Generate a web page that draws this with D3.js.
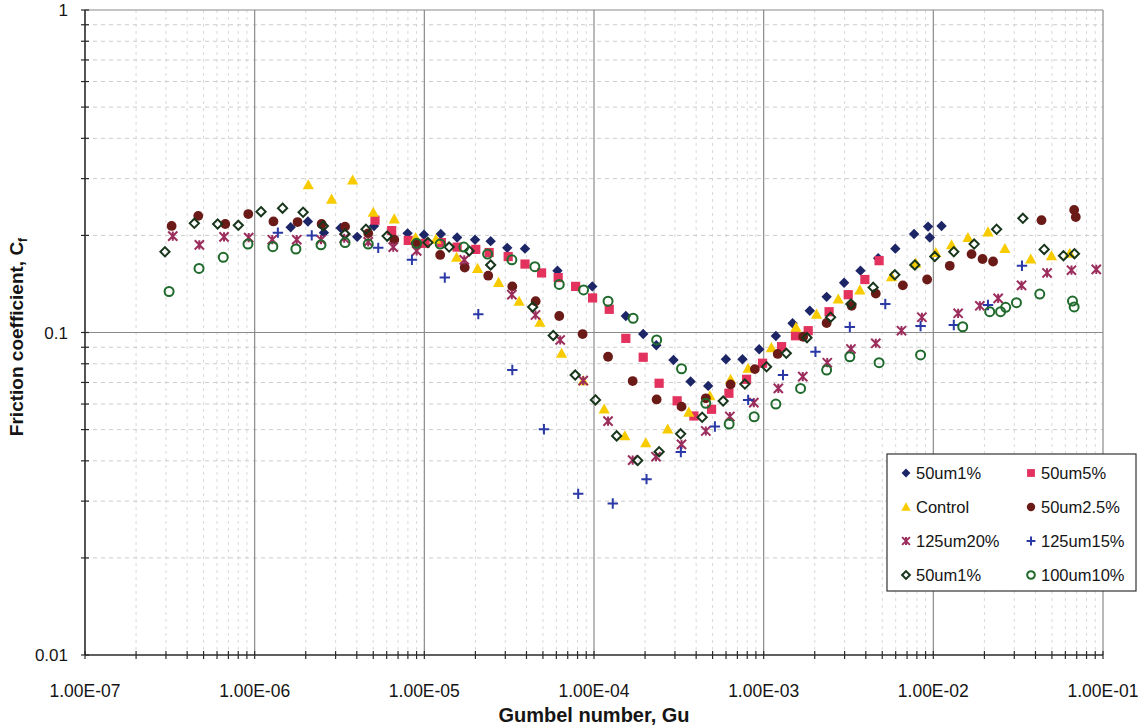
<!DOCTYPE html>
<html>
<head>
<meta charset="utf-8">
<script src="https://cdn.jsdelivr.net/npm/d3@7"></script>
<style>
  body { margin: 0; background: #fff; }
  svg { display: block; }
  text { font-family: "Liberation Sans", Arial, Helvetica, sans-serif; fill: #151515; }
</style>
</head>
<body>
<svg id="chart" width="1138" height="726"></svg>
<script>
// ---- data: Gumbel number (Gu) and friction coefficient (Cf) per surface ----
const guDiamond50um1 = [1.63e-6, 2.06e-6, 2.56e-6, 3.21e-6, 4.02e-6, 5.05e-6, 7.97e-6, 9.95e-6, 1.25e-5, 1.56e-5, 1.99e-5, 2.46e-5, 3.08e-5, 3.92e-5, 6.09e-5, 9.77e-5, 1.54e-4, 1.95e-4, 2.33e-4, 2.94e-4, 3.71e-4, 4.71e-4, 5.99e-4, 7.5e-4, 9.41e-4, 1.18e-3, 1.48e-3, 1.87e-3, 2.35e-3, 2.98e-3, 3.72e-3, 4.73e-3, 5.97e-3, 7.7e-3, 9.31e-3, 9.53e-3, 1.118e-2];
const cfDiamond50um1 = [0.212, 0.221, 0.204, 0.211, 0.198, 0.214, 0.203, 0.201, 0.202, 0.197, 0.194, 0.192, 0.183, 0.182, 0.1555, 0.139, 0.1125, 0.0989, 0.0913, 0.0822, 0.0705, 0.0683, 0.0826, 0.0826, 0.0887, 0.0975, 0.1068, 0.1168, 0.129, 0.1427, 0.1555, 0.170, 0.182, 0.202, 0.213, 0.197, 0.214];

const gu50um5 = [5.12e-6, 6.42e-6, 8.04e-6, 1.01e-5, 1.26e-5, 1.56e-5, 2.01e-5, 2.41e-5, 3.12e-5, 3.92e-5, 4.91e-5, 6.15e-5, 7.79e-5, 9.81e-5, 1.23e-4, 1.54e-4, 1.95e-4, 2.42e-4, 3.09e-4, 3.88e-4, 4.93e-4, 6.24e-4, 7.93e-4, 9.85e-4, 1.275e-3, 1.54e-3, 1.83e-3, 2.43e-3, 3.15e-3, 3.95e-3, 4.79e-3];
const cf50um5 = [0.223, 0.207, 0.193, 0.189, 0.190, 0.184, 0.181, 0.177, 0.172, 0.163, 0.153, 0.148, 0.139, 0.128, 0.118, 0.0959, 0.0838, 0.0696, 0.0614, 0.0551, 0.0578, 0.0648, 0.0716, 0.0803, 0.0904, 0.0977, 0.1013, 0.116, 0.131, 0.146, 0.167];

const guControl = [2.07e-6, 2.84e-6, 3.78e-6, 5.0e-6, 6.65e-6, 8.89e-6, 1.17e-5, 1.55e-5, 2.06e-5, 2.74e-5, 3.62e-5, 4.8e-5, 6.44e-5, 8.64e-5, 1.148e-4, 1.52e-4, 2.02e-4, 2.72e-4, 3.62e-4, 4.82e-4, 6.38e-4, 8.1e-4, 1.11e-3, 1.55e-3, 2.05e-3, 2.75e-3, 3.69e-3, 5.67e-3, 7.88e-3, 1.034e-2, 1.28e-2, 1.60e-2, 2.10e-2, 2.64e-2, 3.75e-2, 4.97e-2, 6.37e-2];
const cfControl = [0.287, 0.259, 0.297, 0.236, 0.225, 0.197, 0.1945, 0.171, 0.158, 0.143, 0.125, 0.1076, 0.0862, 0.0709, 0.0579, 0.0478, 0.0455, 0.0502, 0.0566, 0.0636, 0.0716, 0.0774, 0.0897, 0.1038, 0.114, 0.127, 0.1355, 0.149, 0.164, 0.177, 0.187, 0.197, 0.205, 0.182, 0.169, 0.173, 0.176];

const gu50um2p5 = [3.24e-7, 4.65e-7, 6.71e-7, 9.17e-7, 1.29e-6, 1.79e-6, 2.48e-6, 3.41e-6, 4.67e-6, 6.65e-6, 8.92e-6, 1.24e-5, 1.73e-5, 2.38e-5, 3.30e-5, 4.53e-5, 6.24e-5, 8.57e-5, 1.21e-4, 1.69e-4, 2.34e-4, 3.28e-4, 4.56e-4, 6.38e-4, 8.87e-4, 1.21e-3, 1.71e-3, 2.35e-3, 3.30e-3, 4.58e-3, 6.61e-3, 9.19e-3, 1.25e-2, 1.68e-2, 1.95e-2, 2.25e-2, 4.34e-2, 6.76e-2, 6.91e-2];
const cf50um2p5 = [0.214, 0.230, 0.217, 0.233, 0.221, 0.220, 0.217, 0.213, 0.203, 0.194, 0.189, 0.174, 0.159, 0.150, 0.139, 0.125, 0.1125, 0.0989, 0.0841, 0.0707, 0.062, 0.0589, 0.0625, 0.069, 0.077, 0.0858, 0.097, 0.107, 0.121, 0.132, 0.140, 0.146, 0.161, 0.175, 0.169, 0.166, 0.223, 0.240, 0.228];

const gu125um20 = [3.29e-7, 4.72e-7, 6.6e-7, 9.22e-7, 1.27e-6, 1.77e-6, 2.46e-6, 3.37e-6, 4.67e-6, 6.56e-6, 9.01e-6, 1.72e-5, 3.28e-5, 4.52e-5, 6.32e-5, 8.64e-5, 1.21e-4, 1.69e-4, 2.32e-4, 3.28e-4, 4.56e-4, 6.32e-4, 8.75e-4, 1.22e-3, 1.70e-3, 2.37e-3, 3.27e-3, 4.58e-3, 6.49e-3, 8.56e-3, 1.40e-2, 1.88e-2, 2.41e-2, 3.31e-2, 4.68e-2, 6.52e-2, 9.13e-2];
const cf125um20 = [0.199, 0.187, 0.198, 0.197, 0.194, 0.194, 0.194, 0.196, 0.191, 0.184, 0.179, 0.168, 0.131, 0.1133, 0.0948, 0.0709, 0.0531, 0.0402, 0.0412, 0.045, 0.0495, 0.0549, 0.0606, 0.0671, 0.073, 0.0806, 0.0889, 0.0926, 0.1013, 0.1115, 0.1147, 0.121, 0.1276, 0.140, 0.153, 0.156, 0.157];

const gu125um15 = [1.37e-6, 2.17e-6, 5.35e-6, 8.45e-6, 1.32e-5, 2.08e-5, 3.30e-5, 5.07e-5, 8.07e-5, 1.29e-4, 2.04e-4, 3.25e-4, 5.16e-4, 8.1e-4, 1.30e-3, 2.02e-3, 3.22e-3, 5.21e-3, 8.41e-3, 1.32e-2, 2.10e-2, 3.33e-2];
const cf125um15 = [0.204, 0.200, 0.183, 0.168, 0.148, 0.114, 0.0765, 0.0501, 0.0316, 0.0295, 0.0351, 0.0426, 0.0511, 0.0618, 0.0738, 0.0872, 0.104, 0.1226, 0.1047, 0.1055, 0.1217, 0.161];

const guOpen50um1 = [2.96e-7, 4.41e-7, 6.05e-7, 8.01e-7, 1.09e-6, 1.46e-6, 1.93e-6, 2.54e-6, 3.41e-6, 4.53e-6, 6.04e-6, 1.05e-5, 1.40e-5, 1.84e-5, 2.46e-5, 4.35e-5, 5.75e-5, 7.75e-5, 1.02e-4, 1.36e-4, 1.81e-4, 2.42e-4, 3.24e-4, 4.34e-4, 5.77e-4, 7.75e-4, 1.04e-3, 1.36e-3, 1.80e-3, 2.48e-3, 3.27e-3, 4.42e-3, 5.93e-3, 7.78e-3, 1.02e-2, 1.32e-2, 1.74e-2, 2.36e-2, 3.37e-2, 4.50e-2, 5.85e-2, 6.79e-2];
const cfOpen50um1 = [0.178, 0.218, 0.217, 0.215, 0.237, 0.243, 0.236, 0.214, 0.202, 0.209, 0.199, 0.190, 0.184, 0.179, 0.162, 0.120, 0.0979, 0.0738, 0.0618, 0.0478, 0.0401, 0.0427, 0.0485, 0.0546, 0.0613, 0.0692, 0.0783, 0.0862, 0.0964, 0.1115, 0.1226, 0.138, 0.151, 0.162, 0.172, 0.178, 0.188, 0.209, 0.226, 0.181, 0.173, 0.1755];

const gu100um10 = [3.13e-7, 4.70e-7, 6.53e-7, 9.13e-7, 1.28e-6, 1.75e-6, 2.46e-6, 3.41e-6, 4.67e-6, 9.01e-6, 1.24e-5, 1.71e-5, 2.36e-5, 3.28e-5, 4.48e-5, 6.24e-5, 8.68e-5, 1.21e-4, 1.70e-4, 2.34e-4, 3.28e-4, 4.56e-4, 6.26e-4, 8.79e-4, 1.18e-3, 1.65e-3, 2.35e-3, 3.22e-3, 4.79e-3, 8.41e-3, 1.49e-2, 2.15e-2, 2.49e-2, 2.67e-2, 3.09e-2, 4.24e-2, 6.61e-2, 6.76e-2];
const cf100um10 = [0.134, 0.158, 0.171, 0.188, 0.1845, 0.1815, 0.187, 0.190, 0.188, 0.189, 0.188, 0.184, 0.175, 0.168, 0.160, 0.141, 0.1355, 0.125, 0.1107, 0.0948, 0.0772, 0.0603, 0.052, 0.0548, 0.060, 0.0671, 0.0765, 0.0841, 0.0806, 0.0852, 0.1042, 0.116, 0.116, 0.1197, 0.1237, 0.1316, 0.1252, 0.120];

const seriesNames = ["50um1%", "50um5%", "Control", "50um2.5%", "125um20%", "125um15%", "50um1%", "100um10%"];

const xTickValues = [1e-7, 1e-6, 1e-5, 1e-4, 1e-3, 1e-2, 1e-1];
const xTickLabels = ["1.00E-07", "1.00E-06", "1.00E-05", "1.00E-04", "1.00E-03", "1.00E-02", "1.00E-01"];
const yTickValues = [0.01, 0.1, 1];
const yTickLabels = ["0.01", "0.1", "1"];

// ---- marker definitions ----
function markerPath(shape, r) {
  switch (shape) {
    case "diamond":  return `M0,${-r}L${r},0L0,${r}L${-r},0Z`;
    case "square":   return `M${-r},${-r}h${2 * r}v${2 * r}h${-2 * r}Z`;
    case "triangle": return `M0,${-r}L${r},${r * 0.8}L${-r},${r * 0.8}Z`;
    case "circle":   return `M${r},0A${r},${r} 0 1,1 ${-r},0A${r},${r} 0 1,1 ${r},0Z`;
    case "star":     return `M${-r},${-r}L${r},${r}M${-r},${r}L${r},${-r}M0,${-r}L0,${r}`;
    case "plus":     return `M${-r},0H${r}M0,${-r}V${r}`;
  }
}

const styles = [
  { shape: "diamond",  r: 5.2, fill: "#1c2566", stroke: "none",    sw: 0 },
  { shape: "square",   r: 4.6, fill: "#e2325d", stroke: "none",    sw: 0 },
  { shape: "triangle", r: 5.6, fill: "#f8cb00", stroke: "none",    sw: 0 },
  { shape: "circle",   r: 4.9, fill: "#6b1b17", stroke: "none",    sw: 0 },
  { shape: "star",     r: 4.6, fill: "none",    stroke: "#9b2d5c", sw: 2 },
  { shape: "plus",     r: 5.2, fill: "none",    stroke: "#2b39a6", sw: 2 },
  { shape: "diamond",  r: 4.6, fill: "none",    stroke: "#18361b", sw: 2 },
  { shape: "circle",   r: 4.5, fill: "none",    stroke: "#1f6a2c", sw: 2 }
];

const seriesData = [
  [guDiamond50um1, cfDiamond50um1],
  [gu50um5, cf50um5],
  [guControl, cfControl],
  [gu50um2p5, cf50um2p5],
  [gu125um20, cf125um20],
  [gu125um15, cf125um15],
  [guOpen50um1, cfOpen50um1],
  [gu100um10, cf100um10]
].map(([gx, cy], i) => ({ name: seriesNames[i], style: styles[i], points: gx.map((g, k) => ({ gu: g, cf: cy[k] })) }));

// ---- layout ----
const svg = d3.select("#chart");
const plotL = 85, plotR = 1103, plotT = 10, plotB = 655;
const x = d3.scaleLog().domain([1e-7, 1e-1]).range([plotL, plotR]);
const y = d3.scaleLog().domain([0.01, 1]).range([plotB, plotT]);

const minorX = [], minorY = [];
for (let e = -7; e < -1; e++) for (let m = 2; m <= 9; m++) minorX.push(m * Math.pow(10, e));
for (let e = -2; e < 0; e++) for (let m = 2; m <= 9; m++) minorY.push(m * Math.pow(10, e));

// minor grid (dashed)
const grid = svg.append("g");
grid.selectAll(".mgx").data(minorX).join("line")
  .attr("x1", d => x(d)).attr("x2", d => x(d)).attr("y1", plotT).attr("y2", plotB)
  .attr("stroke", "#d9d9d9").attr("stroke-width", 1).attr("stroke-dasharray", "3,4");
grid.selectAll(".mgy").data(minorY).join("line")
  .attr("x1", plotL).attr("x2", plotR).attr("y1", d => y(d)).attr("y2", d => y(d))
  .attr("stroke", "#cccccc").attr("stroke-width", 1).attr("stroke-dasharray", "4,4");

// major grid (solid)
grid.selectAll(".Mgx").data(xTickValues.slice(1)).join("line")
  .attr("x1", d => x(d)).attr("x2", d => x(d)).attr("y1", plotT).attr("y2", plotB)
  .attr("stroke", "#8a8a8a").attr("stroke-width", 1.2);
grid.selectAll(".Mgy").data(yTickValues.slice(1)).join("line")
  .attr("x1", plotL).attr("x2", plotR).attr("y1", d => y(d)).attr("y2", d => y(d))
  .attr("stroke", "#8a8a8a").attr("stroke-width", 1.2);

// axes
const axisG = svg.append("g").attr("stroke", "#2a2a2a");
axisG.append("line").attr("x1", plotL).attr("x2", plotR).attr("y1", plotB).attr("y2", plotB).attr("stroke-width", 1.6);
axisG.append("line").attr("x1", plotL).attr("x2", plotL).attr("y1", plotT).attr("y2", plotB).attr("stroke-width", 1.6);
axisG.selectAll(".tx").data(minorX.concat(xTickValues)).join("line")
  .attr("x1", d => x(d)).attr("x2", d => x(d)).attr("y1", plotB - 4).attr("y2", plotB + 4).attr("stroke-width", 1.2);
axisG.selectAll(".ty").data(minorY.concat(yTickValues)).join("line")
  .attr("x1", plotL - 4).attr("x2", plotL + 4).attr("y1", d => y(d)).attr("y2", d => y(d)).attr("stroke-width", 1.2);

// tick labels
svg.append("g").selectAll("text").data(xTickValues).join("text")
  .attr("x", d => x(d)).attr("y", 697).attr("text-anchor", "middle")
  .attr("font-size", 17.5).text((d, i) => xTickLabels[i]);
svg.append("g").selectAll("text").data(yTickValues).join("text")
  .attr("x", 68).attr("y", d => y(d) + 6).attr("text-anchor", "end")
  .attr("font-size", 17).text((d, i) => yTickLabels[i]);

// axis titles
svg.append("text").attr("x", 594).attr("y", 722).attr("text-anchor", "middle")
  .attr("font-size", 20).attr("font-weight", "bold").text("Gumbel number, Gu");
const yt = svg.append("text").attr("transform", "translate(23,337) rotate(-90)")
  .attr("text-anchor", "middle").attr("font-size", 19).attr("font-weight", "bold");
yt.append("tspan").text("Friction coefficient, C");
yt.append("tspan").attr("font-size", 12).attr("dy", 4).text("f");

// data markers
const plot = svg.append("g");
seriesData.forEach(s => {
  const st = s.style;
  plot.append("g").selectAll("path").data(s.points).join("path")
    .attr("transform", d => `translate(${x(d.gu)},${y(d.cf)})`)
    .attr("d", markerPath(st.shape, st.r))
    .attr("fill", st.fill).attr("stroke", st.stroke).attr("stroke-width", st.sw);
});

// legend
const lg = svg.append("g");
lg.append("rect").attr("x", 887).attr("y", 454).attr("width", 249).attr("height", 137)
  .attr("fill", "#fff").attr("stroke", "#333").attr("stroke-width", 1.2);
const rowY = [473, 507, 541, 575];
const colX = [906, 1031];
seriesData.forEach((s, i) => {
  const cx = colX[i % 2], cy = rowY[Math.floor(i / 2)];
  const st = s.style;
  lg.append("path").attr("transform", `translate(${cx},${cy})`)
    .attr("d", markerPath(st.shape, st.r * 0.85))
    .attr("fill", st.fill).attr("stroke", st.stroke).attr("stroke-width", st.sw);
  lg.append("text").attr("x", cx + 10).attr("y", cy + 6).attr("font-size", 16.5).text(s.name);
});
</script>
</body>
</html>
